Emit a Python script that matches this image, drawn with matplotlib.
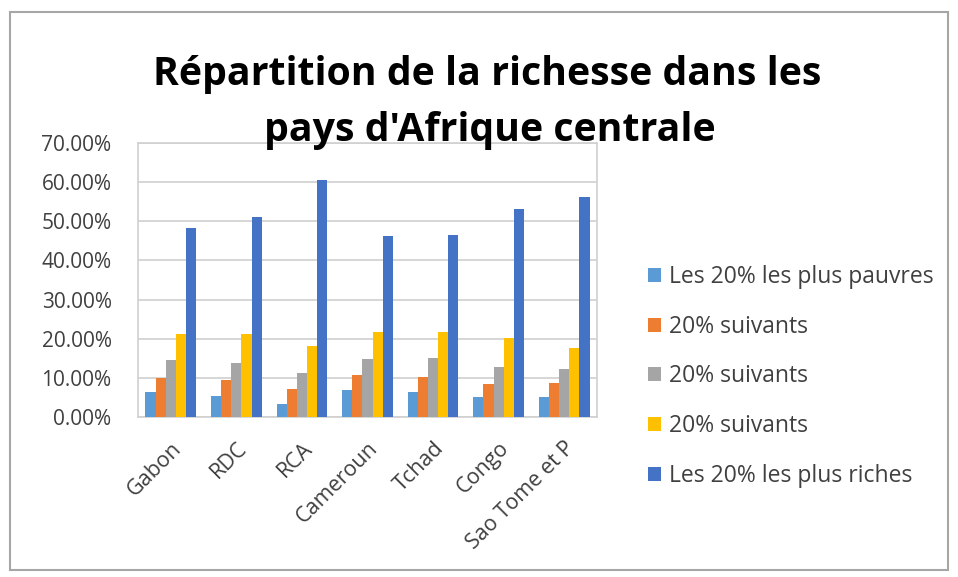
import matplotlib
matplotlib.use("Agg")
import matplotlib.pyplot as plt
import numpy as np
from matplotlib.patches import Rectangle
from matplotlib.ticker import FuncFormatter

countries = ["Gabon", "RDC", "RCA", "Cameroun", "Tchad", "Congo", "Sao Tome et P"]
series_names = ["Les 20% les plus pauvres", "20% suivants", "20% suivants",
                "20% suivants", "Les 20% les plus riches"]
q1 = [6.4, 5.4, 3.2, 6.8, 6.4, 5.2, 5.2]
q2 = [10.0, 9.4, 7.2, 10.7, 10.2, 8.4, 8.6]
q3 = [14.5, 13.9, 11.3, 14.9, 15.0, 12.8, 12.2]
q4 = [21.1, 21.1, 18.2, 21.7, 21.7, 20.3, 17.7]
q5 = [48.2, 51.0, 60.5, 46.2, 46.5, 53.1, 56.3]
colors = ["#5B9BD5", "#ED7D31", "#A5A5A5", "#FFC000", "#4472C4"]
yticks = [0, 10, 20, 30, 40, 50, 60, 70]

plt.rcParams['font.family'] = ['Open Sans', 'DejaVu Sans']

fig = plt.figure(figsize=(9.58, 5.77), dpi=100)
fig.patch.set_facecolor("white")
fig.add_artist(Rectangle((10/958, 1-570/577), 938/958, 558/577, transform=fig.transFigure,
                         fill=False, edgecolor="#A6A6A6", linewidth=1.5))

ax = fig.add_axes([138/958, 1-417/577, 459/958, 274/577])
x = np.arange(len(countries))
w = 0.155
data = [q1, q2, q3, q4, q5]
for i, (vals, c, name) in enumerate(zip(data, colors, series_names)):
    ax.bar(x + (i - 2) * w, vals, w, color=c, label=name, zorder=3)

ax.set_xlim(-0.5, len(countries) - 0.5)
ax.set_ylim(0, 70)
ax.set_yticks(yticks)
ax.yaxis.set_major_formatter(FuncFormatter(lambda v, p: f"{v:.2f}%"))
ax.grid(axis="y", color="#D0D0D0", linewidth=1.2, zorder=0)
for s in ax.spines.values():
    s.set_color("#D0D0D0")
    s.set_linewidth(1.2)
ax.tick_params(axis="both", length=0, colors="#404040")
ax.tick_params(axis="y", pad=19, labelsize=15)
ax.set_xticks(x)
ax.set_xticklabels(countries, rotation=45, ha="right", rotation_mode="anchor")
ax.tick_params(axis="x", pad=15, labelsize=15.5)

fig.text(487/958, 1-75/577, "Répartition de la richesse dans les", ha="center", va="center",
         fontsize=28.3, fontweight="bold", color="black")
fig.text(490/958, 1-130/577, "pays d'Afrique centrale", ha="center", va="center",
         fontsize=28.3, fontweight="bold", color="black")

leg = fig.legend(loc="upper left", bbox_to_anchor=(639/958, 1-256/577), frameon=False,
                 fontsize=16.5, labelspacing=1.12, handlelength=0.55, handleheight=0.55,
                 handletextpad=0.35, labelcolor="#404040", borderaxespad=0)

fig.savefig("out.png", dpi=100, facecolor="white")
